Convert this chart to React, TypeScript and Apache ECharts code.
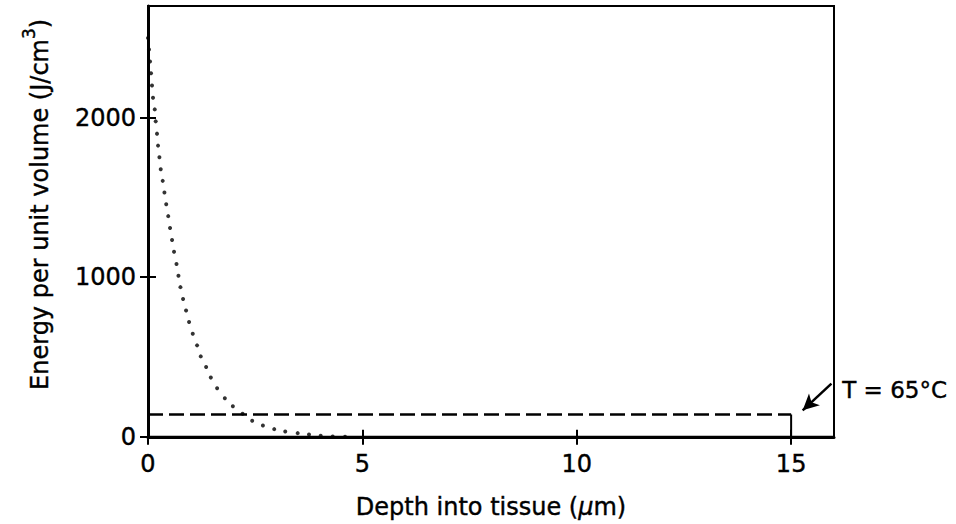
import React, { useEffect, useRef } from 'react';
import * as echarts from 'echarts';

// Dotted curve: energy deposited vs depth
const depthX = [
  0, 0.023, 0.047, 0.07, 0.093, 0.117, 0.157, 0.18, 0.21, 0.234, 0.266, 0.297, 0.343, 0.383,
  0.425, 0.472, 0.514, 0.561, 0.607, 0.664, 0.71, 0.757, 0.818, 0.888, 0.958, 1.044, 1.145,
  1.231, 1.355, 1.465, 1.612, 1.792, 1.979, 2.206, 2.43, 2.68, 2.944, 3.201, 3.491, 3.755,
  4.028, 4.308, 4.596,
];
const energyY = [
  2500, 2427, 2352, 2279, 2202, 2125, 2052, 1977, 1900, 1825, 1752, 1677, 1604, 1531,
  1458, 1383, 1308, 1233, 1160, 1083, 1010, 938, 864, 791, 719, 646, 573,
  504, 438, 371, 304, 242, 191, 144, 100, 71, 48, 33, 23, 14,
  6, 2, 0,
];

// Threshold (T = 65°C) dashed line and its end marker
const thresholdDepth = [0, 15];
const thresholdEnergy = 140;
const markerDepth = 15;

// Axes
const xTicks = [0, 5, 10, 15];
const yTicks = [0, 1000, 2000];
const xMin = 0;
const xMax = 16;
const yMin = 0;
const yMax = 2700;

// Annotation arrow (data coords) and text
const arrowFrom = [15.94, 333];
const arrowTo = [15.27, 166];
const annotationText = 'T = 65°C';

const FONT = 'DejaVu Sans';
const INK = { textBorderColor: '#000', textBorderWidth: 0.4 };

export default function App() {
  const ref = useRef<HTMLDivElement>(null);

  useEffect(() => {
    if (!ref.current) return;
    const chart = echarts.init(ref.current, undefined, { renderer: 'svg' });

    const curve = depthX.map((x, i) => [x, energyY[i]]);
    const dashed = thresholdDepth.map((x) => [x, thresholdEnergy]);
    const marker = [
      [markerDepth, 0],
      [markerDepth, thresholdEnergy],
    ];

    const baseX = {
      type: 'value',
      min: xMin,
      max: xMax,
      gridIndex: 0,
      position: 'bottom',
      splitLine: { show: false },
    };
    const baseY = {
      type: 'value',
      min: yMin,
      max: yMax,
      gridIndex: 0,
      position: 'left',
      splitLine: { show: false },
    };

    chart.setOption({
      animation: false,
      backgroundColor: '#fff',
      textStyle: { fontFamily: FONT, color: '#000' },
      grid: {
        left: 148,
        top: 6,
        width: 686,
        height: 432,
        show: true,
        borderColor: '#000',
        borderWidth: 2,
        containLabel: false,
      },
      xAxis: [
        {
          ...baseX,
          name: '{t|Depth into tissue (}{mu|μ}{t|m)}',
          nameLocation: 'middle',
          nameGap: 58,
          nameTextStyle: {
            rich: {
              t: { fontFamily: FONT, fontSize: 24, color: '#000', ...INK },
              mu: { fontFamily: FONT, fontSize: 24, fontStyle: 'italic', color: '#000', ...INK },
            },
          },
          axisLine: { show: true, onZero: false, lineStyle: { color: '#000', width: 3 } },
          axisTick: {
            show: true,
            inside: false,
            length: 8,
            customValues: xTicks,
            lineStyle: { color: '#000', width: 2 },
          },
          axisLabel: {
            show: true,
            customValues: xTicks,
            formatter: (v: number) => String(v),
            margin: 15,
            fontFamily: FONT,
            fontSize: 24,
            color: '#000',
            ...INK,
          },
        },
        {
          ...baseX,
          axisLine: { show: false },
          axisTick: {
            show: true,
            inside: true,
            length: 7,
            customValues: xTicks,
            lineStyle: { color: '#000', width: 2 },
          },
          axisLabel: { show: false },
        },
      ],
      yAxis: [
        {
          ...baseY,
          name: '{t|Energy per unit volume (J/cm}{s|3}{t|)}',
          nameLocation: 'middle',
          nameGap: 96,
          nameTextStyle: {
            padding: [0, 0, 0, 34],
            rich: {
              t: { fontFamily: FONT, fontSize: 24, color: '#000', lineHeight: 32, verticalAlign: 'bottom', ...INK },
              s: { fontFamily: FONT, fontSize: 17, color: '#000', lineHeight: 32, verticalAlign: 'top', ...INK },
            },
          },
          axisLine: { show: true, onZero: false, lineStyle: { color: '#000', width: 3 } },
          axisTick: {
            show: true,
            inside: false,
            length: 8,
            customValues: yTicks,
            lineStyle: { color: '#000', width: 2 },
          },
          axisLabel: {
            show: true,
            customValues: yTicks,
            formatter: (v: number) => String(v),
            margin: 12,
            fontFamily: FONT,
            fontSize: 24,
            color: '#000',
            ...INK,
          },
        },
        {
          ...baseY,
          axisLine: { show: false },
          axisTick: {
            show: true,
            inside: true,
            length: 8,
            customValues: yTicks,
            lineStyle: { color: '#000', width: 2 },
          },
          axisLabel: { show: false },
        },
      ],
      series: [
        {
          type: 'scatter',
          name: 'Energy',
          data: curve,
          symbol: 'circle',
          symbolSize: 4,
          itemStyle: { color: '#000' },
          silent: true,
        },
        {
          type: 'line',
          name: 'Threshold',
          data: dashed,
          showSymbol: false,
          lineStyle: { color: '#000', width: 2.5, type: [15, 6] },
          silent: true,
          markLine: {
            silent: true,
            symbol: ['none', 'arrow'],
            symbolSize: [12, 16],
            label: { show: false },
            lineStyle: { color: '#000', width: 2.5, type: 'solid' },
            data: [[{ coord: arrowFrom }, { coord: arrowTo }]],
          },
        },
        {
          type: 'line',
          name: 'Marker',
          data: marker,
          showSymbol: false,
          lineStyle: { color: '#000', width: 2 },
          silent: true,
        },
      ],
      graphic: [
        {
          type: 'text',
          left: 842,
          top: 378,
          style: {
            text: annotationText,
            fontFamily: FONT,
            fontSize: 23,
            fill: '#000',
            stroke: '#000',
            lineWidth: 0.4,
          },
        },
      ],
    });

    return () => chart.dispose();
  }, []);

  return (
    <div
      ref={ref}
      style={{ position: 'fixed', left: 0, top: 0, width: 956, height: 524, background: '#fff' }}
    />
  );
}
